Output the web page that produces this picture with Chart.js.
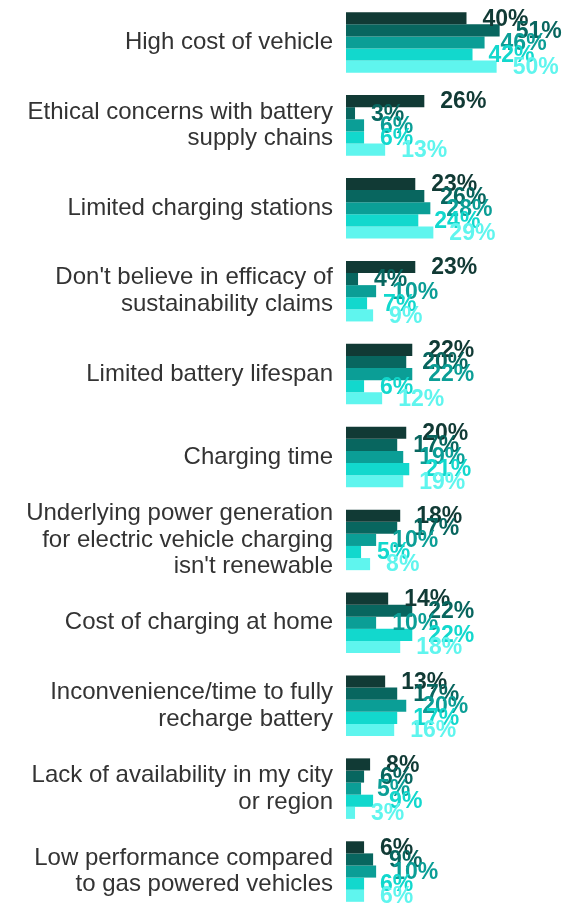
<!DOCTYPE html>
<html>
<head>
<meta charset="utf-8">
<script src="https://cdn.jsdelivr.net/npm/chart.js@4/dist/chart.umd.min.js"></script>
<style>
  html, body { margin: 0; padding: 0; background: #ffffff; overflow: hidden; }
  #wrap { position: absolute; left: 0; top: 0; width: 587px; height: 914px; }
</style>
</head>
<body>
<div id="wrap"><canvas id="chart" width="587" height="914"></canvas></div>
<script>
// Barriers to buying an electric vehicle (% of respondents), five respondent groups
const categories = [
  ["High cost of vehicle"],
  ["Ethical concerns with battery", "supply chains"],
  ["Limited charging stations"],
  ["Don't believe in efficacy of", "sustainability claims"],
  ["Limited battery lifespan"],
  ["Charging time"],
  ["Underlying power generation", "for electric vehicle charging", "isn't renewable"],
  ["Cost of charging at home"],
  ["Inconvenience/time to fully", "recharge battery"],
  ["Lack of availability in my city", "or region"],
  ["Low performance compared", "to gas powered vehicles"]
];

const group1 = [40, 26, 23, 23, 22, 20, 18, 14, 13, 8, 6];
const group2 = [51, 3, 26, 4, 20, 17, 17, 22, 17, 6, 9];
const group3 = [46, 6, 28, 10, 22, 19, 10, 10, 20, 5, 10];
const group4 = [42, 6, 24, 7, 6, 21, 5, 22, 17, 9, 6];
const group5 = [50, 13, 29, 9, 12, 19, 8, 18, 16, 3, 6];

const seriesNames = ["Group 1", "Group 2", "Group 3", "Group 4", "Group 5"];
const seriesValues = [group1, group2, group3, group4, group5];
const seriesColors = ["#113a35", "#08665f", "#0b9e96", "#12d8cd", "#5ff5ee"];

// Percent labels placed just past the end of each bar, in the bar's colour
const valueLabels = {
  id: "valueLabels",
  afterDatasetsDraw(chart) {
    const ctx = chart.ctx;
    ctx.save();
    ctx.font = "bold 23px 'Liberation Sans', Arial, sans-serif";
    ctx.textAlign = "left";
    ctx.textBaseline = "middle";
    chart.data.datasets.forEach((ds, di) => {
      const meta = chart.getDatasetMeta(di);
      meta.data.forEach((bar, i) => {
        ctx.fillStyle = ds.backgroundColor;
        ctx.fillText(ds.data[i] + "%", bar.x + 16, bar.y + 1);
      });
    });
    ctx.restore();
  }
};

new Chart(document.getElementById("chart"), {
  type: "bar",
  data: {
    labels: categories,
    datasets: seriesValues.map((vals, k) => ({
      label: seriesNames[k],
      data: vals,
      backgroundColor: seriesColors[k],
      borderWidth: 0,
      barPercentage: 1.0,
      categoryPercentage: 0.73
    }))
  },
  options: {
    indexAxis: "y",
    responsive: false,
    animation: false,
    layout: { padding: { top: 1, bottom: 1, left: 0, right: 0 } },
    plugins: {
      legend: { display: false },
      tooltip: { enabled: false }
    },
    scales: {
      x: {
        display: false,
        min: 0,
        max: 80
      },
      y: {
        afterFit(scale) {
          scale.width = 346;
          scale.paddingTop = 0;
          scale.paddingBottom = 0;
        },
        grid: { display: false, drawTicks: false },
        border: { display: false },
        ticks: {
          autoSkip: false,
          padding: 13,
          color: "#333333",
          font: { family: "'Liberation Sans', Arial, sans-serif", size: 24, lineHeight: 1.11 }
        }
      }
    }
  },
  plugins: [valueLabels]
});
</script>
</body>
</html>
